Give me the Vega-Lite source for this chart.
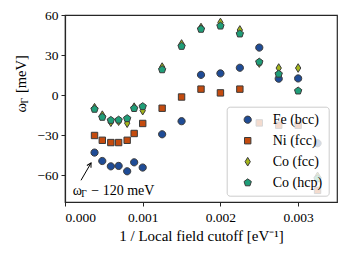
{
  "$schema": "https://vega.github.io/schema/vega-lite/v6.json",
  "width": 272,
  "height": 187,
  "autosize": {"type": "none"},
  "padding": {"left": 65, "top": 15, "right": 10, "bottom": 55},
  "background": "white",
  "datasets": {
    "pts": [
      {"series": "Fe (bcc)", "x": 0.00038, "y": -43},
      {"series": "Fe (bcc)", "x": 0.00048, "y": -49.3},
      {"series": "Fe (bcc)", "x": 0.00059, "y": -53.3},
      {"series": "Fe (bcc)", "x": 0.00069, "y": -53},
      {"series": "Fe (bcc)", "x": 0.0008, "y": -57},
      {"series": "Fe (bcc)", "x": 0.00089, "y": -50.3},
      {"series": "Fe (bcc)", "x": 0.001, "y": -54.2},
      {"series": "Fe (bcc)", "x": 0.00125, "y": -29.3},
      {"series": "Fe (bcc)", "x": 0.0015, "y": -19.5},
      {"series": "Fe (bcc)", "x": 0.00175, "y": 15.2},
      {"series": "Fe (bcc)", "x": 0.002, "y": 16.3},
      {"series": "Fe (bcc)", "x": 0.00225, "y": 20.5},
      {"series": "Fe (bcc)", "x": 0.0025, "y": 35.6},
      {"series": "Fe (bcc)", "x": 0.00275, "y": 12.3},
      {"series": "Fe (bcc)", "x": 0.003, "y": 12.5},
      {"series": "Fe (bcc)", "x": 0.00325, "y": -36},
      {"series": "Ni (fcc)", "x": 0.00038, "y": -30.2},
      {"series": "Ni (fcc)", "x": 0.00048, "y": -33.8},
      {"series": "Ni (fcc)", "x": 0.00059, "y": -35.5},
      {"series": "Ni (fcc)", "x": 0.00069, "y": -35.5},
      {"series": "Ni (fcc)", "x": 0.0008, "y": -33.8},
      {"series": "Ni (fcc)", "x": 0.00089, "y": -28.7},
      {"series": "Ni (fcc)", "x": 0.001, "y": -21.2},
      {"series": "Ni (fcc)", "x": 0.00125, "y": -9.8},
      {"series": "Ni (fcc)", "x": 0.0015, "y": -1.4},
      {"series": "Ni (fcc)", "x": 0.00175, "y": 4.5},
      {"series": "Ni (fcc)", "x": 0.002, "y": 1.7},
      {"series": "Ni (fcc)", "x": 0.00225, "y": 4.5},
      {"series": "Ni (fcc)", "x": 0.0025, "y": -20.8},
      {"series": "Ni (fcc)", "x": 0.00275, "y": -22.5},
      {"series": "Ni (fcc)", "x": 0.003, "y": -22.5},
      {"series": "Ni (fcc)", "x": 0.00325, "y": -71.3},
      {"series": "Co (fcc)", "x": 0.00038, "y": -9.4},
      {"series": "Co (fcc)", "x": 0.00048, "y": -15},
      {"series": "Co (fcc)", "x": 0.00059, "y": -20.3},
      {"series": "Co (fcc)", "x": 0.00069, "y": -19.5},
      {"series": "Co (fcc)", "x": 0.0008, "y": -21},
      {"series": "Co (fcc)", "x": 0.00089, "y": -9},
      {"series": "Co (fcc)", "x": 0.001, "y": -11.6},
      {"series": "Co (fcc)", "x": 0.00125, "y": 21},
      {"series": "Co (fcc)", "x": 0.0015, "y": 38.3},
      {"series": "Co (fcc)", "x": 0.00175, "y": 50.6},
      {"series": "Co (fcc)", "x": 0.002, "y": 54.4},
      {"series": "Co (fcc)", "x": 0.00225, "y": 48.8},
      {"series": "Co (fcc)", "x": 0.0025, "y": 24},
      {"series": "Co (fcc)", "x": 0.00275, "y": 20.3},
      {"series": "Co (fcc)", "x": 0.003, "y": 20.3},
      {"series": "Co (fcc)", "x": 0.00325, "y": -60.8},
      {"series": "Co (hcp)", "x": 0.00038, "y": -10.5},
      {"series": "Co (hcp)", "x": 0.00048, "y": -16.5},
      {"series": "Co (hcp)", "x": 0.00059, "y": -18.8},
      {"series": "Co (hcp)", "x": 0.00069, "y": -18.6},
      {"series": "Co (hcp)", "x": 0.0008, "y": -17.5},
      {"series": "Co (hcp)", "x": 0.00089, "y": -9.9},
      {"series": "Co (hcp)", "x": 0.001, "y": -8.5},
      {"series": "Co (hcp)", "x": 0.00125, "y": 19.1},
      {"series": "Co (hcp)", "x": 0.0015, "y": 36.6},
      {"series": "Co (hcp)", "x": 0.00175, "y": 49.4},
      {"series": "Co (hcp)", "x": 0.002, "y": 51.8},
      {"series": "Co (hcp)", "x": 0.00225, "y": 45.9},
      {"series": "Co (hcp)", "x": 0.0025, "y": 24.8},
      {"series": "Co (hcp)", "x": 0.00275, "y": 15.8},
      {"series": "Co (hcp)", "x": 0.003, "y": 3.2},
      {"series": "Co (hcp)", "x": 0.00325, "y": -62.5}
    ],
    "annot": [{"x": 0.0001, "y": -71.5}],
    "arrow": [{"x": 0.000206, "y": -63.75, "x2": 0.000335, "y2": -50.8}],
    "ytitle": [{"x": -0.00055, "y": -13}]
  },
  "encoding": {
    "x": {
      "field": "x", "type": "quantitative",
      "scale": {"domain": [0, 0.0035], "nice": false, "zero": false},
      "axis": {"values": [0, 0.001, 0.002, 0.003], "format": ".3f", "title": "1 / Local field cutoff [eV⁻¹]", "titleFontSize": 15, "labelPadding": 4, "titlePadding": 5}
    },
    "y": {
      "field": "y", "type": "quantitative",
      "scale": {"domain": [-80, 60], "nice": false, "zero": false},
      "axis": {"values": [-60, -30, 0, 30, 60], "title": null, "labelPadding": 3}
    }
  },
  "layer": [
    {
      "data": {"name": "pts"},
      "mark": {"type": "point", "filled": true, "opacity": 1, "stroke": "#3a3a3a", "strokeWidth": 1, "size": 64},
      "encoding": {
        "color": {
          "field": "series", "type": "nominal",
          "scale": {"domain": ["Fe (bcc)", "Ni (fcc)", "Co (fcc)", "Co (hcp)"], "range": ["#1f4c96", "#c44b0e", "#a3b51b", "#1f9e78"]},
          "legend": {"title": null}
        },
        "shape": {
          "field": "series", "type": "nominal",
          "scale": {"domain": ["Fe (bcc)", "Ni (fcc)", "Co (fcc)", "Co (hcp)"], "range": [
            "M-0.9,0A0.9,0.9 0 1,0 0.9,0A0.9,0.9 0 1,0 -0.9,0Z",
            "M-0.8,-0.8H0.8V0.8H-0.8Z",
            "M0,-1.08L0.66,0L0,1.08L-0.66,0Z",
            "M0,-0.96L0.913,-0.297L0.564,0.777L-0.564,0.777L-0.913,-0.297Z"
          ]},
          "legend": {"title": null}
        }
      }
    },
    {
      "data": {"name": "arrow"},
      "mark": {"type": "rule", "color": "black", "strokeWidth": 1},
      "encoding": {"x2": {"field": "x2"}, "y2": {"field": "y2"}}
    },
    {
      "data": {"name": "arrow"},
      "mark": {"type": "point", "shape": "M-0.45,0.8L0,0L0.45,0.8", "filled": false, "stroke": "black", "strokeWidth": 1, "size": 110, "angle": 30, "opacity": 1},
      "encoding": {"x": {"field": "x2", "type": "quantitative"}, "y": {"field": "y2", "type": "quantitative"}}
    },
    {
      "data": {"name": "annot"},
      "mark": {"type": "text", "text": "ω", "align": "left", "baseline": "middle", "fontSize": 14, "color": "black"}
    },
    {
      "data": {"name": "annot"},
      "mark": {"type": "text", "text": "Γ", "align": "left", "baseline": "middle", "fontSize": 9.5, "dx": 8.5, "dy": 3, "color": "black"}
    },
    {
      "data": {"name": "annot"},
      "mark": {"type": "text", "text": "− 120  meV", "align": "left", "baseline": "middle", "fontSize": 14, "dx": 18.5, "color": "black"}
    },
    {
      "data": {"name": "ytitle"},
      "mark": {"type": "text", "text": "ω", "align": "left", "baseline": "middle", "fontSize": 14.5, "angle": 270, "color": "black"}
    },
    {
      "data": {"name": "ytitle"},
      "mark": {"type": "text", "text": "Γ", "align": "left", "baseline": "middle", "fontSize": 10, "angle": 270, "dx": 9, "dy": 3, "color": "black"}
    },
    {
      "data": {"name": "ytitle"},
      "mark": {"type": "text", "text": "[meV]", "align": "left", "baseline": "middle", "fontSize": 14.5, "angle": 270, "dx": 19.5, "color": "black"}
    }
  ],
  "config": {
    "font": "Liberation Serif",
    "view": {"stroke": "#262626", "strokeWidth": 1.2},
    "axis": {
      "domainColor": "#262626", "tickColor": "#262626", "labelColor": "black", "titleColor": "black",
      "labelFont": "Liberation Serif", "titleFont": "Liberation Serif", "labelFontSize": 13.5, "titleFontSize": 13.5,
      "titleFontWeight": "normal", "grid": false, "tickSize": 4, "domainWidth": 1.2, "tickWidth": 1
    },
    "legend": {
      "orient": "none", "legendX": 161.7, "legendY": 91.7,
      "fillColor": "rgba(255,255,255,0.8)", "strokeColor": "#cccccc", "cornerRadius": 3,
      "padding": 6, "symbolSize": 64, "symbolStrokeColor": "#3a3a3a", "symbolStrokeWidth": 1,
      "labelFont": "Liberation Serif", "labelFontSize": 14, "labelColor": "black",
      "rowPadding": 7, "labelOffset": 18, "symbolOffset": 8
    }
  }
}
